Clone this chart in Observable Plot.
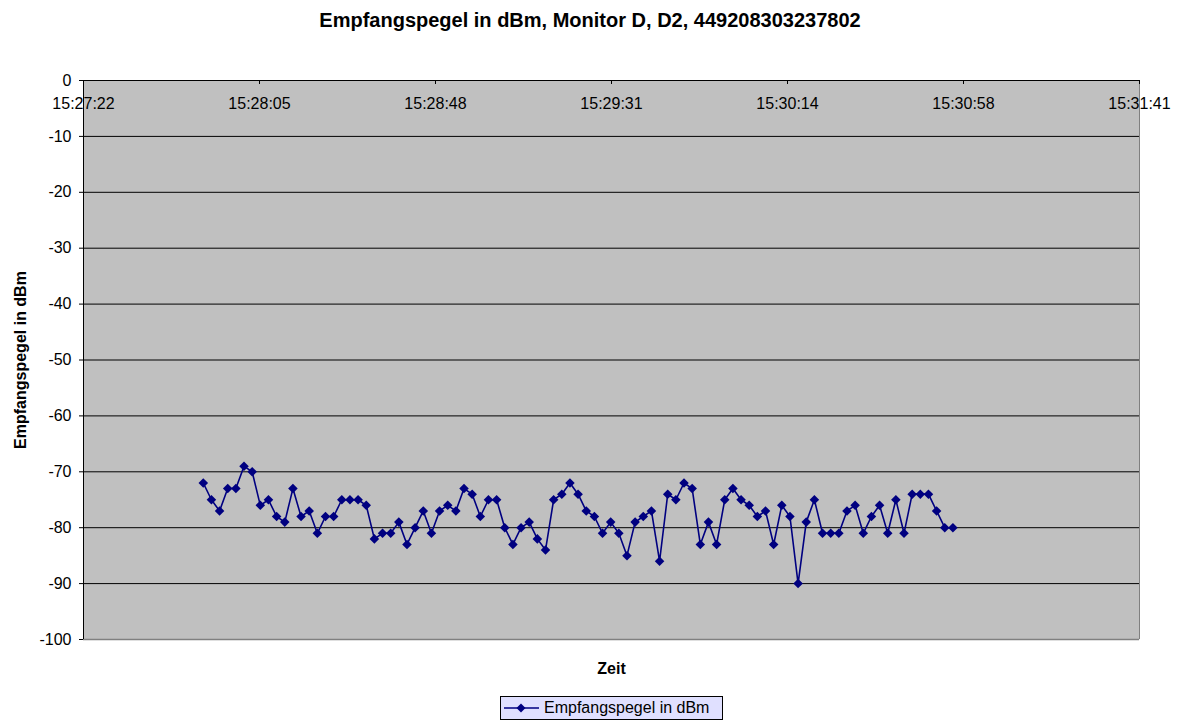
<!DOCTYPE html>
<html>
<head>
<meta charset="utf-8">
<script src="https://cdn.jsdelivr.net/npm/d3@7"></script>
<script src="https://cdn.jsdelivr.net/npm/@observablehq/plot@0.6"></script>
<style>
  html, body { margin: 0; padding: 0; background: white; }
  body { width: 1180px; height: 722px; overflow: hidden; font-family: "Liberation Sans", Arial, sans-serif; }
  #title { height: 40px; line-height: 40px; text-align: center; font-weight: bold; font-size: 20px; color: black; }
  #chart svg { display: block; }
  #legendWrap { position: relative; height: 37px; }
  #legend { position: absolute; left: 500px; top: 11px; width: 221px; height: 22px; border: 1px solid black; background: #E0E0FF; font-size: 16px; line-height: 22px; color: black; }
  #legend svg { position: absolute; left: 0; top: 0; }
  #legend span { position: absolute; left: 43px; top: 0; white-space: nowrap; }
</style>
</head>
<body>
<div id="title">Empfangspegel in dBm, Monitor D, D2, 449208303237802</div>
<div id="chart"></div>
<div id="legendWrap"><div id="legend"><svg width="42" height="22"><line x1="3" y1="11" x2="38" y2="11" stroke="#000080" stroke-width="1.5"/><path d="M20,6.5 L24.5,11 L20,15.5 L15.5,11 Z" fill="#000080"/></svg><span>Empfangspegel in dBm</span></div></div>
<script>
const times = [
  "15:27:51","15:27:53","15:27:55","15:27:57","15:27:59",
  "15:28:01","15:28:03","15:28:05","15:28:07","15:28:09","15:28:11","15:28:13","15:28:15","15:28:17","15:28:19",
  "15:28:21","15:28:23","15:28:25","15:28:27","15:28:29","15:28:31","15:28:33","15:28:35","15:28:37","15:28:39",
  "15:28:41","15:28:43","15:28:45","15:28:47","15:28:49","15:28:51","15:28:53","15:28:55","15:28:57","15:28:59",
  "15:29:01","15:29:03","15:29:05","15:29:07","15:29:09","15:29:11","15:29:13","15:29:15","15:29:17","15:29:19",
  "15:29:21","15:29:23","15:29:25","15:29:27","15:29:29","15:29:31","15:29:33","15:29:35","15:29:37","15:29:39",
  "15:29:41","15:29:43","15:29:45","15:29:47","15:29:49","15:29:51","15:29:53","15:29:55","15:29:57","15:29:59",
  "15:30:01","15:30:03","15:30:05","15:30:07","15:30:09","15:30:11","15:30:13","15:30:15","15:30:17","15:30:19",
  "15:30:21","15:30:23","15:30:25","15:30:27","15:30:29","15:30:31","15:30:33","15:30:35","15:30:37","15:30:39",
  "15:30:41","15:30:43","15:30:45","15:30:47","15:30:49","15:30:51","15:30:53","15:30:55"
];
const levels = [
  -72,-75,-77,-73,-73,-69,-70,-76,-75,-78,-79,-73,-78,-77,-81,-78,-78,-75,-75,-75,-76,-82,-81,-81,
  -79,-83,-80,-77,-81,-77,-76,-77,-73,-74,-78,-75,-75,-80,-83,-80,-79,-82,-84,-75,-74,-72,-74,
  -77,-78,-81,-79,-81,-85,-79,-78,-77,-86,-74,-75,-72,-73,-83,-79,-83,-75,-73,-75,-76,-78,-77,
  -83,-76,-78,-90,-79,-75,-81,-81,-81,-77,-76,-81,-78,-76,-81,-75,-81,-74,-74,-74,-77,-80,-80
];
const xTickSeconds = [55641.6, 55684.8, 55728, 55771.2, 55814.4, 55857.6, 55900.8];
const xTickLabels = ["15:27:22","15:28:05","15:28:48","15:29:31","15:30:14","15:30:58","15:31:41"];
const yTicks = [0,-10,-20,-30,-40,-50,-60,-70,-80,-90,-100];
const yTitle = "Empfangspegel in dBm";
const xTitle = "Zeit";

const toSec = s => { const [h, m, sec] = s.split(":").map(Number); return h * 3600 + m * 60 + sec; };
const data = times.map((t, i) => ({t: toSec(t), v: levels[i]}));

const W = 1180, H = 645, mT = 40, mB = 46, mL = 83, mR = 41;
const plotH = H - mT - mB;
const xMin = xTickSeconds[0], xMax = xTickSeconds[xTickSeconds.length - 1];

const chart = Plot.plot({
  width: W, height: H,
  marginTop: mT, marginBottom: mB, marginLeft: mL, marginRight: mR,
  x: {domain: [xMin, xMax], axis: null},
  y: {domain: [-100, 0], axis: null},
  style: {fontFamily: "'Liberation Sans', Arial, sans-serif", background: "white", color: "black", overflow: "visible"},
  marks: [
    Plot.frame({fill: "#C0C0C0", stroke: null}),
    Plot.ruleY(yTicks.filter(d => d < 0 && d > -100), {stroke: "black", strokeWidth: 1}),
    Plot.ruleY([-100], {stroke: "#808080", strokeWidth: 1.5}),
    Plot.ruleX([xMax], {stroke: "#808080", strokeWidth: 1}),
    Plot.ruleY([0], {stroke: "black", strokeWidth: 1}),
    Plot.ruleX([xMin], {stroke: "black", strokeWidth: 1}),
    Plot.ruleX(xTickSeconds, {x: d => d, stroke: "black", insetBottom: plotH - 4}),
    Plot.axisY({ticks: yTicks, tickSize: 4, tickPadding: 8, fontSize: 16, tickFormat: d => String(d), label: null, stroke: "black"}),
    Plot.text(xTickSeconds, {x: d => d, frameAnchor: "top", lineAnchor: "middle", dy: 23.5, text: (d, i) => xTickLabels[i], fontSize: 16, fill: "black"}),
    Plot.line(data, {x: "t", y: "v", stroke: "#000080", strokeWidth: 1.6}),
    Plot.dot(data, {x: "t", y: "v", symbol: "diamond2", r: 4.3, fill: "#000080", stroke: null}),
    Plot.text([yTitle], {text: d => d, frameAnchor: "left", textAnchor: "middle", lineAnchor: "middle", rotate: -90, dx: -63, fontWeight: "bold", fontSize: 16, fill: "black"}),
    Plot.text([xTitle], {text: d => d, frameAnchor: "bottom", textAnchor: "middle", lineAnchor: "middle", dy: 29.5, fontWeight: "bold", fontSize: 16, fill: "black"})
  ]
});
document.getElementById("chart").appendChild(chart);
</script>
</body>
</html>
